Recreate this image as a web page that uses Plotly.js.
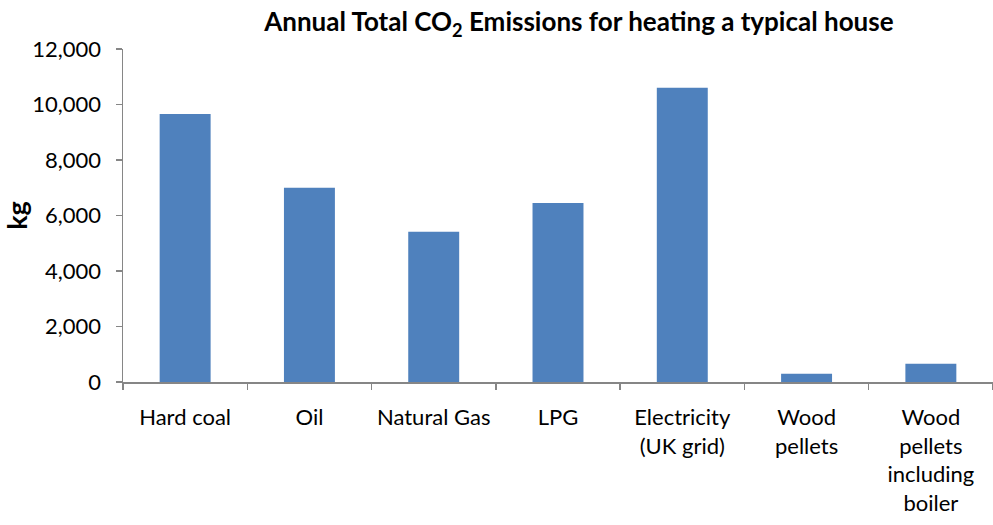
<!DOCTYPE html>
<html>
<head>
<meta charset="utf-8">
<script src="https://cdn.plot.ly/plotly-3.0.1.min.js"></script>
<style>html,body{margin:0;padding:0;background:#fff;}#chart{width:993px;height:525px;}</style>
</head>
<body>
<div id="chart"></div>
<script>
const categories = ["Hard coal", "Oil", "Natural Gas", "LPG", "Electricity<br>(UK grid)", "Wood<br>pellets", "Wood<br>pellets<br>including<br>boiler"];
const emissionsKg = [9660, 7000, 5410, 6450, 10600, 300, 660];
const yTickVals = [0, 2000, 4000, 6000, 8000, 10000, 12000];

const FONT = "Lato, 'Open Sans', sans-serif";

Plotly.newPlot("chart", [{
  type: "bar",
  x: categories,
  y: emissionsKg,
  marker: {color: "#4F81BD"},
  hoverinfo: "x+y"
}], {
  width: 993,
  height: 525,
  margin: {l: 123, r: 0, t: 49, b: 143},
  paper_bgcolor: "#ffffff",
  plot_bgcolor: "#ffffff",
  bargap: 0.59,
  showlegend: false,
  font: {family: FONT, color: "#000000", size: 22},
  title: {
    text: "<b>Annual Total CO<sub>2</sub> Emissions for heating a typical house</b>",
    font: {family: FONT, size: 26, color: "#000000"},
    xref: "container", x: 0.583, xanchor: "center",
    yref: "container", y: 0.958, yanchor: "middle"
  },
  xaxis: {
    type: "category",
    showline: true, linecolor: "#868686", linewidth: 1.5,
    ticks: "outside", tickson: "boundaries", ticklen: 6, tickcolor: "#868686", tickwidth: 1.5,
    tickfont: {family: FONT, size: 22, color: "#000000"},
    ticklabelstandoff: 15,
    showgrid: false, zeroline: false,
    fixedrange: true
  },
  yaxis: {
    range: [0, 12000],
    tickvals: yTickVals,
    tickformat: ",d",
    showline: true, linecolor: "#868686", linewidth: 1.5,
    ticks: "outside", ticklen: 6, tickcolor: "#868686", tickwidth: 1.5,
    tickfont: {family: FONT, size: 22, color: "#000000"},
    ticklabelstandoff: 10,
    showgrid: false, zeroline: false,
    title: {text: "<b>kg</b>", font: {family: FONT, size: 27, color: "#000000"}, standoff: 8},
    fixedrange: true
  }
}, {displayModeBar: false, staticPlot: true});
</script>
</body>
</html>
